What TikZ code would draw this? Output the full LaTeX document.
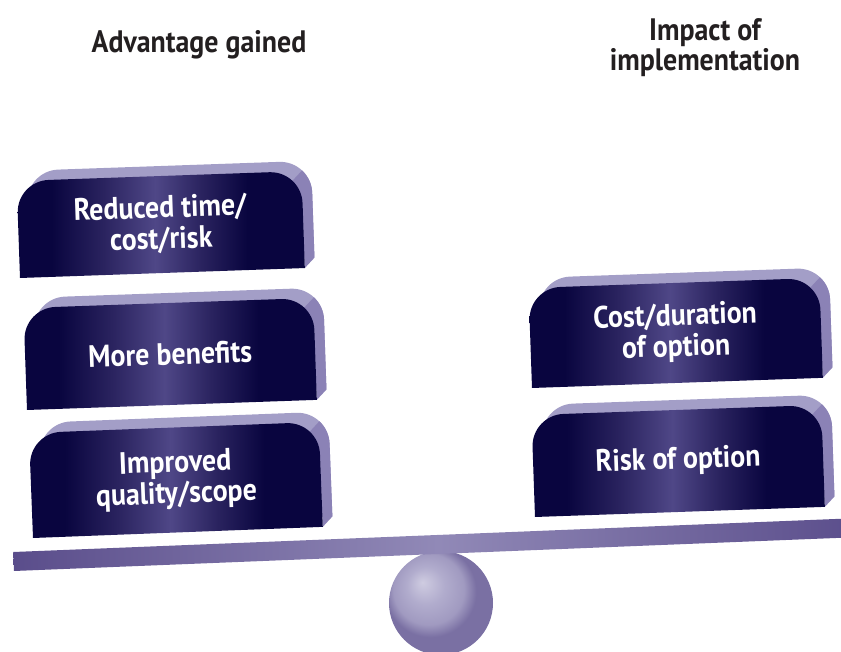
\documentclass[tikz,border=0pt]{standalone}
\usepackage{fontspec}
\setmainfont{PT Sans}
\newfontfamily\boxfont[FakeStretch=0.9]{PT Sans}
\newfontfamily\headfont[FakeStretch=0.9]{PT Sans}
\definecolor{navy}{HTML}{09053F}
\definecolor{navymid}{HTML}{2A235F}
\definecolor{stripe}{HTML}{4F4787}
\definecolor{bevtopc}{HTML}{A39EC7}
\definecolor{bevsidec}{HTML}{8B82B6}
\definecolor{beamdark}{HTML}{5A4D8B}
\definecolor{beamlight}{HTML}{9189B7}
\definecolor{sphhl}{HTML}{CFCCE1}
\definecolor{sphmid}{HTML}{B1ACCD}
\definecolor{sphedge}{HTML}{7A70A3}
\definecolor{headc}{HTML}{231F20}
\pgfdeclarehorizontalshading{frontsh}{100bp}{color(0bp)=(navy); color(25bp)=(navy); color(31bp)=(navy); color(40bp)=(navymid); color(49bp)=(stripe); color(57bp)=(navymid); color(65bp)=(navy); color(100bp)=(navy)}
\pgfdeclarehorizontalshading{beamsh}{100bp}{color(0bp)=(beamdark); color(25bp)=(beamdark); color(50bp)=(beamlight); color(75bp)=(beamdark); color(100bp)=(beamdark)}
\pgfdeclareradialshading{sph}{\pgfpoint{-9bp}{10bp}}{color(0bp)=(sphhl); color(9bp)=(sphmid); color(17bp)=(sphmid!70!sphedge); color(22bp)=(sphedge); color(50bp)=(sphedge)}
\newcommand\bevbox[7]{%
\begin{scope}[shift={(#2,#3)}, rotate=#6]
 \fill[bevtopc] (10,10) -- (10,#5-22) arc(180:90:32pt) -- (#4-22,#5+10) arc(90:0:32pt) -- (#4+10,10) -- cycle;
 \fill[bevsidec] (#4,0) -- (#4,#5-32) arc(0:45:32pt) -- ++(10,10) arc(45:0:32pt) -- (#4+10,10) -- cycle;
 \shade[shading=frontsh] (0,0) -- (0,#5-32) arc(180:90:32pt) -- (#4-32,#5) arc(90:0:32pt) -- (#4,0) -- cycle;
 \node[boxtext, rotate=#6] (#1) at (#4/2,#5/2) {#7};
\end{scope}}
\begin{document}
\begin{tikzpicture}[x=1pt,y=1pt,
  boxtext/.style={text=white, inner sep=0pt, align=center, font=\boxfont\bfseries\fontsize{31}{31}\selectfont},
  head/.style={text=headc, inner sep=0pt, align=center, font=\headfont\bfseries\fontsize{31}{30}\selectfont}]
\useasboundingbox (0,0) rectangle (841,652);
% headings
\node[head] (h1) at (199,607) {Advantage gained};
\node[head] (h2) at (705,604) {Impact of\\implementation};
% left stack
\bevbox{b1}{20}{374}{285}{97}{2}{Reduced time/\\cost/risk}
\bevbox{b2}{27}{242}{290}{102}{2}{More benefits}
\bevbox{b3}{33}{114}{290}{105}{2.2}{Improved\\quality/scope}
% right stack
\bevbox{b4}{532}{264}{291}{100}{2}{Cost/duration\\of option}
\bevbox{b5}{535}{135}{290}{102}{2}{Risk of option}
% fulcrum
\shade[shading=sph] (441,49) circle[radius=52pt];
% beam
\begin{scope}[shift={(14,81)}, rotate=2.3]
 \shade[shading=beamsh] (0,0) rectangle (850,19);
\end{scope}
\end{tikzpicture}
\end{document}
